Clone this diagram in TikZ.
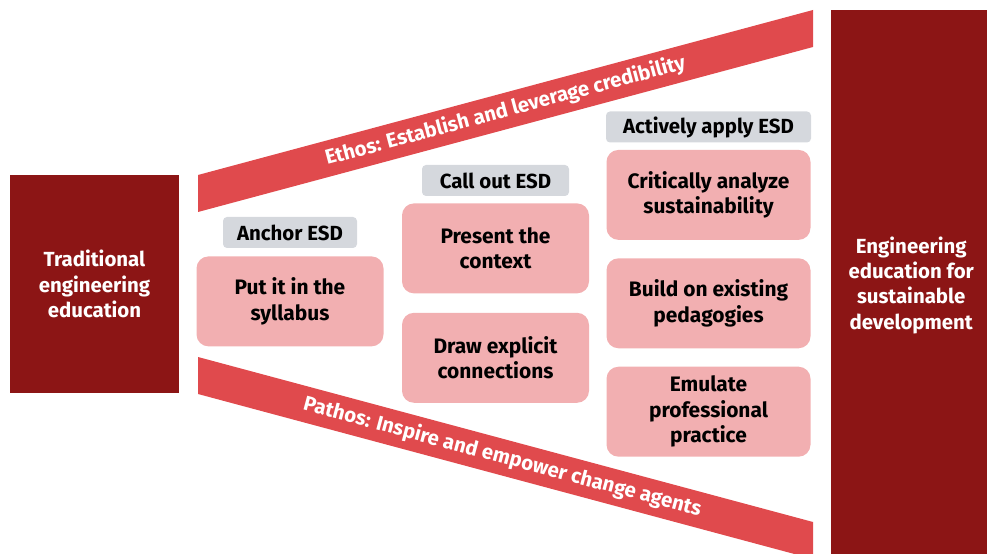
\documentclass[tikz,border=0pt]{standalone}
\usepackage{fontspec}
\setmainfont{Fira Sans}
\usetikzlibrary{positioning}

\definecolor{cardinal}{HTML}{8C1515}
\definecolor{bandred}{HTML}{E04A4D}
\definecolor{rosepink}{HTML}{F2AFB1}
\definecolor{taggray}{HTML}{D5D8DD}

\tikzset{
  endbox/.style={fill=cardinal,text=white,align=center,font=\bfseries\fontsize{20.5}{25.5}\selectfont},
  band/.style={fill=bandred},
  bandlabel/.style={text=white,sloped,font=\bfseries\fontsize{20.5}{24}\selectfont},
  tag/.style={fill=taggray,rounded corners=4bp,minimum height=31bp,inner sep=0pt,font=\bfseries\fontsize{20.5}{24}\selectfont},
  tactic/.style={fill=rosepink,rounded corners=12bp,minimum height=90bp,align=center,font=\bfseries\fontsize{21}{25.5}\selectfont},
}

\begin{document}
\begin{tikzpicture}[x=1bp,y=-1bp]
  \useasboundingbox (0,0) rectangle (987,554);

  \node[endbox,minimum width=169bp,minimum height=218bp] (trad) at (94.5,284) {Traditional\\engineering\\education};
  \node[endbox,minimum width=160bp,minimum height=550bp,anchor=north west] (eesd) at (831,10) {Engineering\\education for\\sustainable\\development};

  \fill[band] (198,175) -- (813,10) -- (813,47) -- (198,212) -- cycle;
  \path (198,193.5) -- (813,28.5) node[bandlabel,pos=0.5] (ethos) {Ethos: Establish and leverage credibility};
  \fill[band] (198,357) -- (813,522) -- (813,559) -- (198,394) -- cycle;
  \path (198,375.5) -- (813,540.5) node[bandlabel,pos=0.495] (pathos) {Pathos: Inspire and empower change agents};

  \node[tag,minimum width=134bp] (anchor) at (290,232.5) {Anchor ESD};
  \node[tactic,minimum width=187bp,below=8bp of anchor] (syllabus) {Put it in the\\syllabus};

  \node[tag,minimum width=147bp] (callout) at (495.5,180.5) {Call out ESD};
  \node[tactic,minimum width=187bp,below=7bp of callout] (context) {Present the\\context};
  \node[tactic,minimum width=187bp,below=19bp of context] (explicit) {Draw explicit\\connections};

  \node[tag,minimum width=205bp] (apply) at (708.5,127) {Actively apply ESD};
  \node[tactic,minimum width=204bp,below=7bp of apply] (analyze) {Critically analyze\\sustainability};
  \node[tactic,minimum width=204bp,below=18bp of analyze] (pedagogy) {Build on existing\\pedagogies};
  \node[tactic,minimum width=204bp,below=18bp of pedagogy] (practice) {Emulate\\professional\\practice};
\end{tikzpicture}
\end{document}
